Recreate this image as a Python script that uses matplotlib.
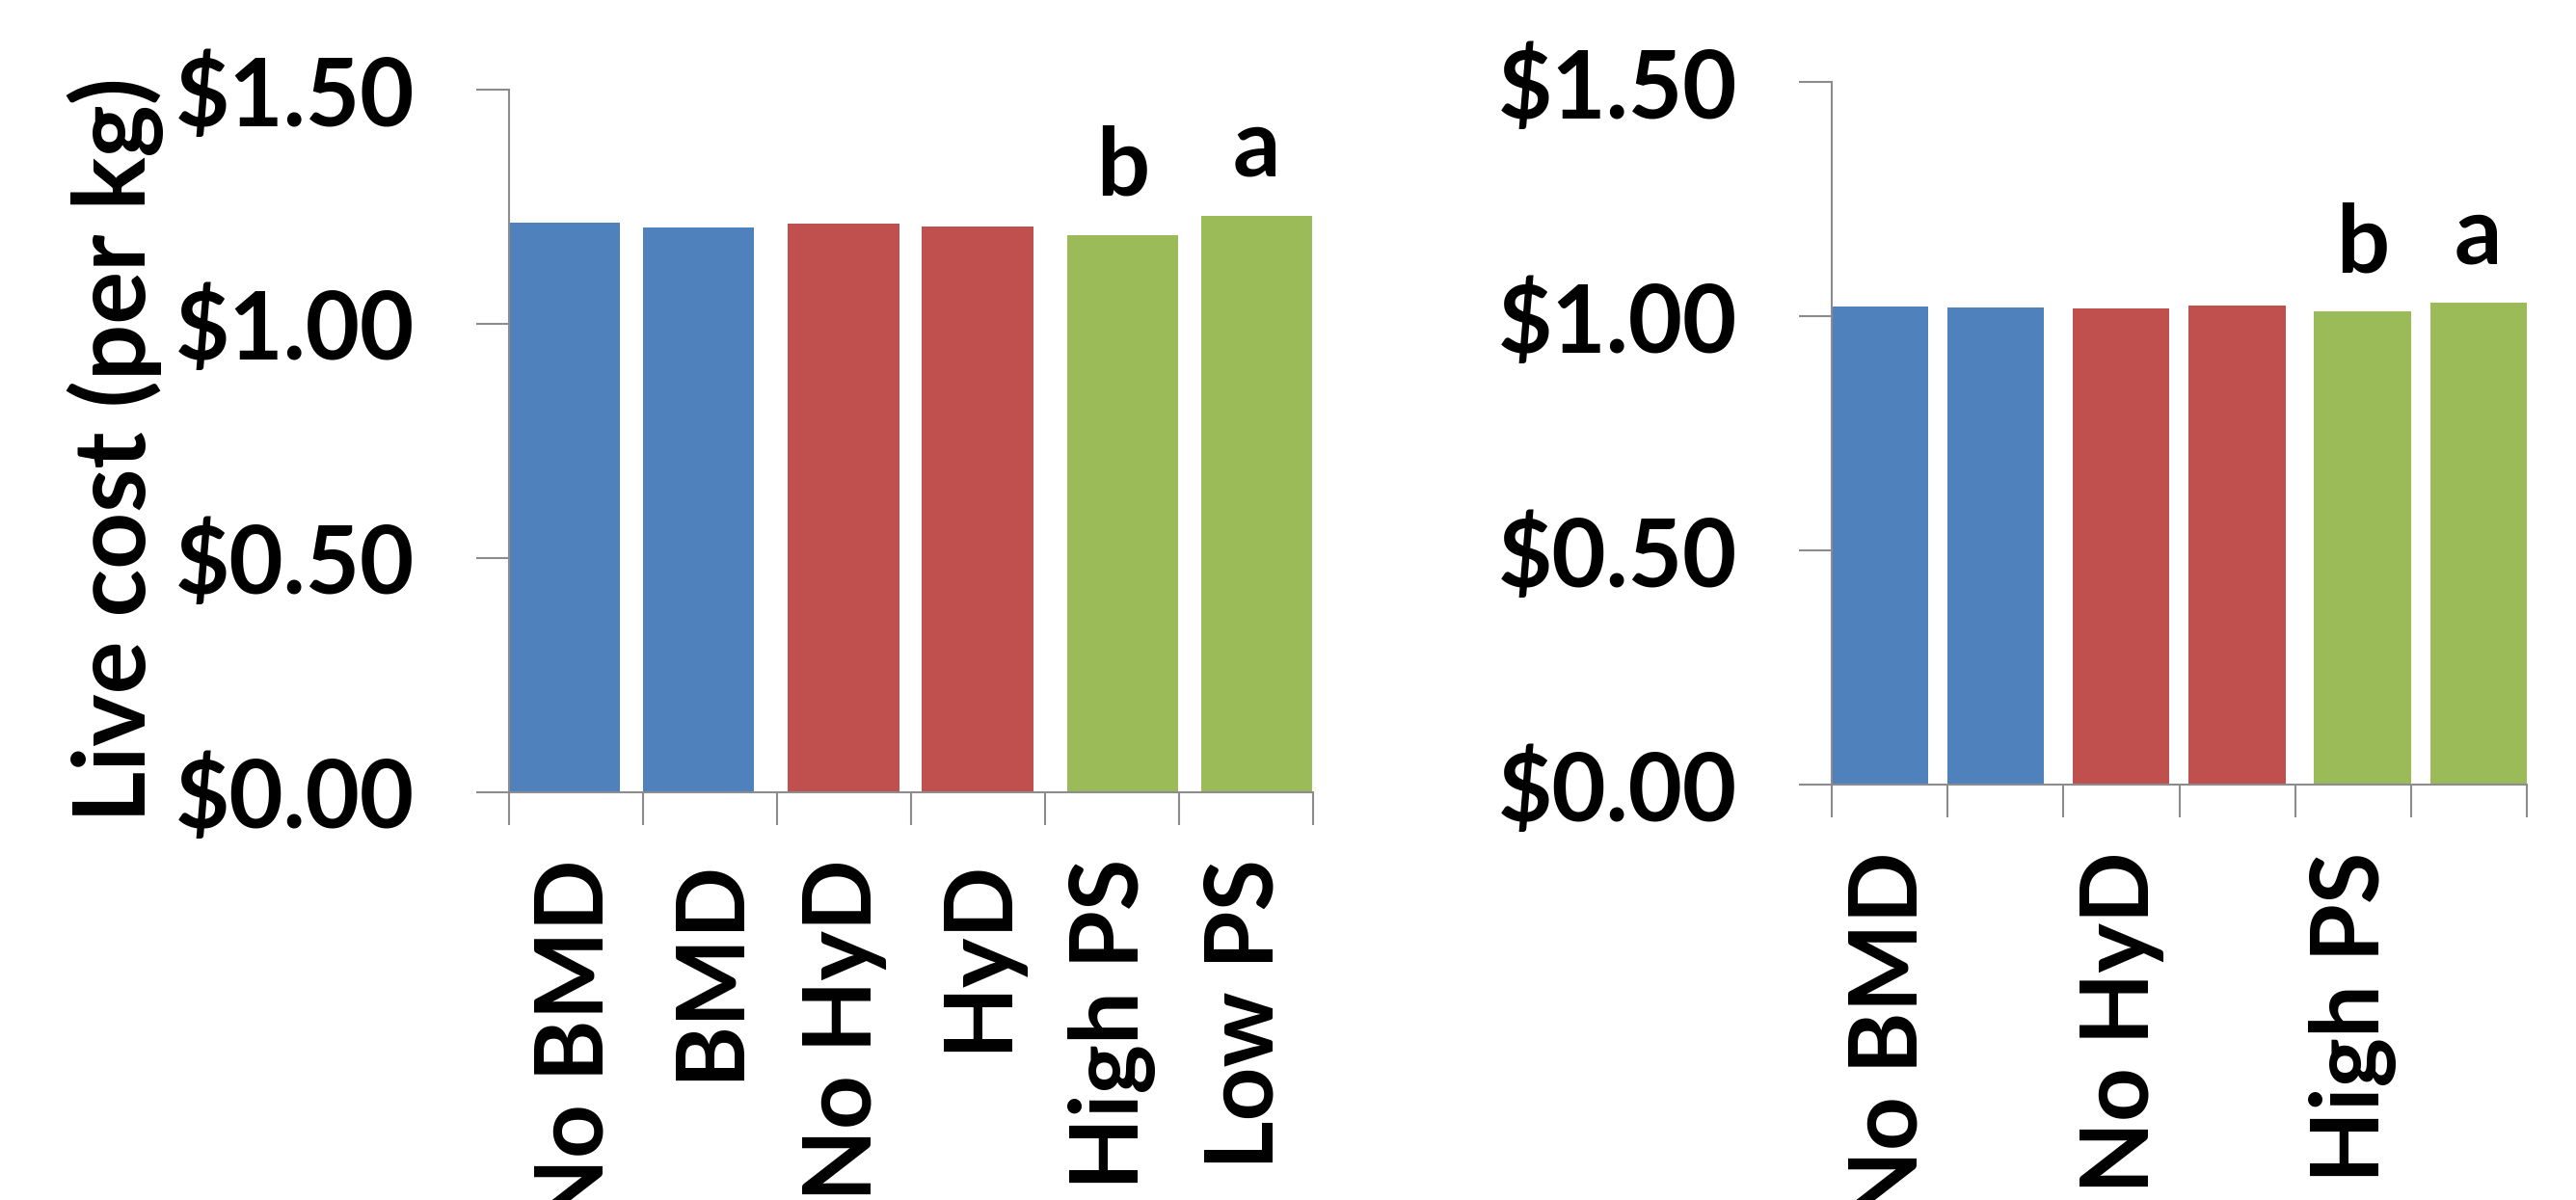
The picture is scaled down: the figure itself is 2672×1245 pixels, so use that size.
import numpy as np
import matplotlib
matplotlib.use("Agg")
import matplotlib.pyplot as plt
from matplotlib.ticker import FuncFormatter

plt.rcParams['font.family'] = ['Lato', 'DejaVu Sans']
plt.rcParams['font.weight'] = 'bold'

# live cost per kg, two trials
treatments = ["No BMD", "BMD", "No HyD", "HyD", "High PS", "Low PS"]
left_cost = [1.216, 1.205, 1.214, 1.208, 1.189, 1.230]
right_cost = [1.020, 1.018, 1.016, 1.023, 1.010, 1.028]
right_shown = ["No BMD", "No HyD", "High PS"]
letters = {4: "b", 5: "a"}
y_ticks = [0.0, 0.5, 1.0, 1.5]

bar_colors = ["#4F81BD", "#4F81BD", "#C0504D", "#C0504D", "#9BBB59", "#9BBB59"]
# excel-style series offsets inside each category slot
slot_offset = [0.0, 0.0, 0.0825, 0.0825, 0.165, 0.165]
bar_w = 0.833
FS = 70
axis_gray = "#8C8C8C"


def draw_panel(ax, values, labels_at, labels):
    x = np.arange(len(values)) + np.array(slot_offset)
    ax.bar(x, values, width=bar_w, align='edge', color=bar_colors, zorder=2)

    ax.set_xlim(0, len(values))
    ax.set_ylim(0, 1.5)
    ax.set_yticks(y_ticks)
    ax.yaxis.set_major_formatter(FuncFormatter(lambda v, p: f"${v:.2f}"))

    # category borders get tick marks, labels sit on the minor ticks
    ax.set_xticks(np.arange(len(values) + 1))
    ax.set_xticklabels([])
    ax.set_xticks(np.array(labels_at) + 0.5, minor=True)
    ax.set_xticklabels(labels, minor=True, rotation=90, fontsize=FS,
                       fontweight='bold', va='top', ha='center')
    ax.tick_params(axis='x', which='major', direction='out', length=24.5,
                   width=1.5, color=axis_gray)
    ax.tick_params(axis='x', which='minor', length=0, pad=50)
    ax.tick_params(axis='y', direction='out', length=24.5, width=1.5,
                   color=axis_gray, labelsize=FS, pad=46)
    for lab in ax.get_yticklabels():
        lab.set_fontweight('bold')

    for side in ['top', 'right']:
        ax.spines[side].set_visible(False)
    for side in ['left', 'bottom']:
        ax.spines[side].set_color(axis_gray)
        ax.spines[side].set_linewidth(1.5)

    for i, txt in letters.items():
        ax.annotate(txt, (x[i] + bar_w / 2, values[i]), xytext=(0, 29.5),
                    textcoords='offset points', ha='center', va='baseline',
                    fontsize=FS, fontweight='bold')


fig = plt.figure(figsize=(26.72, 12.45), dpi=100)
ax1 = fig.add_axes([0.1975, 0.34, 0.3121, 0.5855])
ax2 = fig.add_axes([0.7111, 0.3462, 0.2698, 0.5855])

draw_panel(ax1, left_cost, range(6), treatments)
draw_panel(ax2, right_cost, [0, 2, 4], right_shown)

fig.text(0.045, 0.625, "Live cost (per kg)", rotation=90, ha='center',
         va='center', fontsize=74, fontweight='bold')

fig.savefig("out.png", dpi=100)
